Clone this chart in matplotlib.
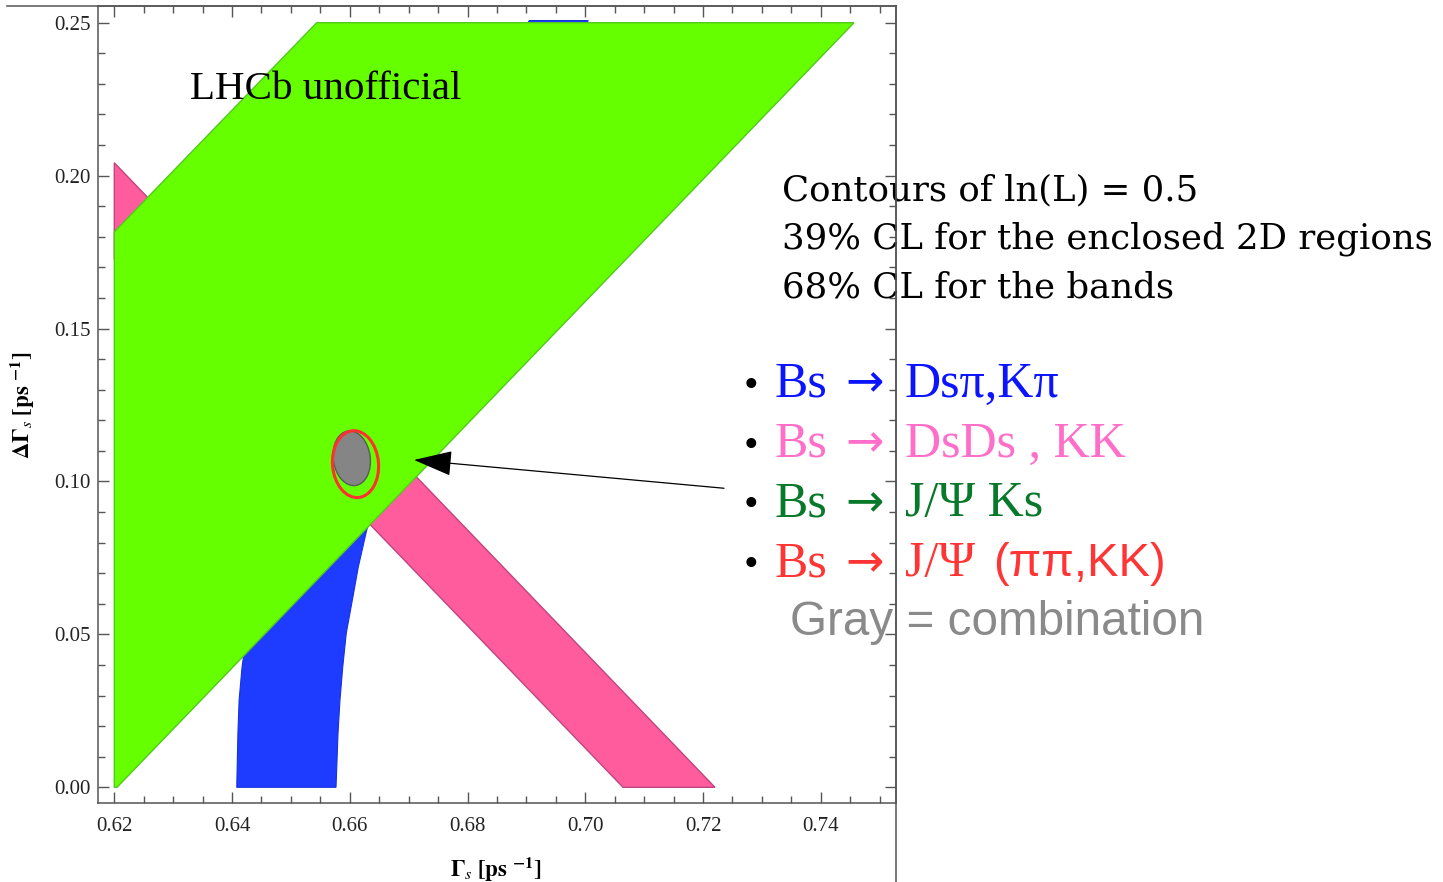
import matplotlib
matplotlib.use("Agg")
import matplotlib.pyplot as plt
import matplotlib.transforms as mtransforms
from matplotlib.patches import Polygon, Ellipse
from matplotlib.lines import Line2D
from matplotlib.ticker import MultipleLocator

W, H = 1443, 882

# allowed regions (Gamma_s, DeltaGamma_s)
green_x = [0.6200, 0.62046, 0.74565, 0.65438, 0.6200]
green_y = [0.0000, 0.0000, 0.2500, 0.2500, 0.1816]

pink_x = [0.70641, 0.72203, 0.6200, 0.6200]
pink_y = [0.0000, 0.0000, 0.2042, 0.1728]

blue_y = [0.0, 0.0178, 0.0285, 0.0393, 0.0504, 0.0612, 0.0721, 0.0841, 0.12, 0.18, 0.2507]
blue_left = [0.6408, 0.6410, 0.6412, 0.6417, 0.6425, 0.6436, 0.6449, 0.6466, 0.6530, 0.6660, 0.6905]
blue_right = [0.65766, 0.6580, 0.65833, 0.6588, 0.6594, 0.66043, 0.66145, 0.66287, 0.6690, 0.6820, 0.7005]

comb_center = (0.66033, 0.10759)   # gray combination
jpsi_center = (0.66097, 0.10566)   # red J/psi contour
arrow_tip = (0.67091, 0.10703)
arrow_tail = (0.72357, 0.09778)

xticks = [0.62, 0.64, 0.66, 0.68, 0.70, 0.72, 0.74]
yticks = [0.00, 0.05, 0.10, 0.15, 0.20, 0.25]

notes = ["Contours of ln(L) = 0.5",
         "39% CL for the enclosed 2D regions",
         "68% CL for the bands"]
channel_finals = ["Ds\u03c0,K\u03c0", "DsDs , KK", "J/\u03a8 Ks", "J/\u03a8"]
channel_colors = ["#0A14FF", "#FF6EC8", "#08782A", "#FF3535"]


def fx(px):
    return px / W


def fy(py):
    return 1 - py / H


plt.rcParams["mathtext.fontset"] = "stix"
fig = plt.figure(figsize=(W / 100, H / 100), dpi=100)
ax = fig.add_axes([fx(98), fy(803), fx(896) - fx(98), fy(6) - fy(803)])
ax.set_xlim(0.61723, 0.75278)
ax.set_ylim(-0.00513, 0.25546)

ax.add_patch(Polygon(list(zip(pink_x, pink_y)), closed=True,
                     fc="#FF5C9E", ec="#C0457E", lw=1.0, zorder=2))
blue_poly = list(zip(blue_left, blue_y)) + list(zip(blue_right[::-1], blue_y[::-1]))
ax.add_patch(Polygon(blue_poly, closed=True, fc="#1E3CFF", ec="#1732D8",
                     lw=0.8, zorder=2))
ax.add_patch(Polygon(list(zip(green_x, green_y)), closed=True,
                     fc="#66FF00", ec="#52C81E", lw=1.0, zorder=3))

# ellipses sized in pixels, tilted in screen space
tr_c = mtransforms.Affine2D() + mtransforms.ScaledTranslation(*comb_center, ax.transData)
ax.add_patch(Ellipse((0, 0), 37, 55, angle=8, transform=tr_c,
                     fc="#858585", ec="#5A5A5A", lw=1.0, zorder=5))
tr_j = mtransforms.Affine2D() + mtransforms.ScaledTranslation(*jpsi_center, ax.transData)
ax.add_patch(Ellipse((0, 0), 46, 67, angle=5, transform=tr_j,
                     fc="none", ec="#FF3030", lw=2.2, zorder=6))

ax.annotate("", xy=arrow_tip, xytext=arrow_tail,
            arrowprops=dict(arrowstyle="-|>,head_length=1.22,head_width=0.4",
                            mutation_scale=20, lw=0.9, color="black",
                            shrinkA=0, shrinkB=0), zorder=7)

ax.set_xticks(xticks)
ax.set_xticklabels([f"{v:.2f}" for v in xticks])
ax.set_yticks(yticks)
ax.set_yticklabels([f"{v:.2f}" for v in yticks])
ax.xaxis.set_minor_locator(MultipleLocator(0.005))
ax.yaxis.set_minor_locator(MultipleLocator(0.01))
ax.tick_params(which="both", direction="in", top=True, right=True,
               color="#555555", width=1.0, labelsize=15, labelcolor="#222222")
ax.tick_params(which="major", length=7.7)
ax.tick_params(which="minor", length=4.8)
ax.tick_params(axis="x", pad=10)
ax.tick_params(axis="y", pad=5.5)
for lab in ax.get_xticklabels() + ax.get_yticklabels():
    lab.set_family("Liberation Serif")
for sp in ax.spines.values():
    sp.set_color("#555555")
    sp.set_linewidth(1.1)

fig.text(fx(496), fy(877), r"$\mathbf{\Gamma}_{s}\ \mathbf{[ps}\ ^{\mathbf{-1}}\mathbf{]}$",
         ha="center", va="baseline", fontsize=16.5)
fig.text(fx(23), fy(405), r"$\mathbf{\Delta\Gamma}_{s}\ \mathbf{[ps}\ ^{\mathbf{-1}}\mathbf{]}$",
         ha="center", va="center", rotation=90, fontsize=16.5)

fig.text(fx(190), fy(99), "LHCb unofficial", family="Liberation Serif",
         fontsize=29.5, va="baseline", ha="left")

for i, line in enumerate(notes):
    fig.text(fx(782), fy(200 + 49 * i), line, family="DejaVu Serif",
             fontsize=25.6, va="baseline", ha="left")

for i, (final, col) in enumerate(zip(channel_finals, channel_colors)):
    yb = 396.7 + 59.8 * i
    fig.text(fx(744), fy(yb), "\u2022", family="Liberation Serif",
             fontsize=30, va="baseline", ha="left", color="black")
    fig.text(fx(775), fy(yb), "Bs", family="Liberation Serif",
             fontsize=36, va="baseline", ha="left", color=col)
    fig.text(fx(845), fy(yb), "\u2192", family="DejaVu Sans",
             fontsize=33, va="baseline", ha="left", color=col)
    fig.text(fx(905), fy(yb), final, family="Liberation Serif",
             fontsize=36, va="baseline", ha="left", color=col)
fig.text(fx(993), fy(396.7 + 59.8 * 3), "(\u03c0\u03c0,KK)", family="Liberation Sans",
         fontsize=34, va="baseline", ha="left", color=channel_colors[3])

fig.text(fx(790), fy(635), "Gray = combination", family="Liberation Sans",
         fontsize=34.3, va="baseline", ha="left", color="#8A8A8A")

# slide frame lines crossing the text
fig.add_artist(Line2D([fx(896), fx(896)], [0, fy(6)], color="#555555",
                      lw=1.1, zorder=10))
fig.add_artist(Line2D([fx(7), fx(896)], [fy(6), fy(6)], color="#555555",
                      lw=1.1, zorder=10))

fig.savefig("out.png", dpi=100)
